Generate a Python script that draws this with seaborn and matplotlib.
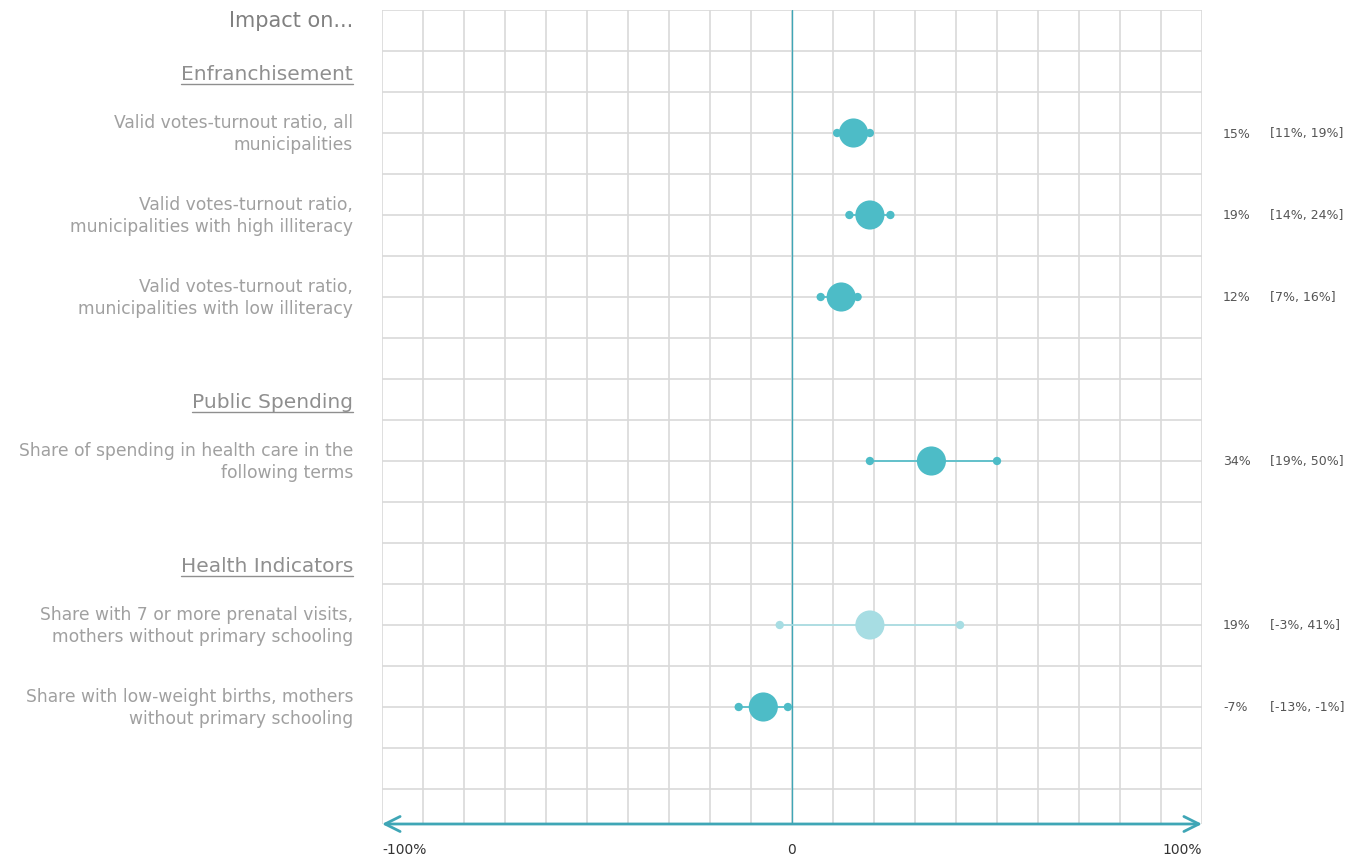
import matplotlib
matplotlib.use("Agg")
import matplotlib.pyplot as plt
import matplotlib.transforms as mtransforms
from matplotlib.lines import Line2D
import seaborn as sns
import pandas as pd
import numpy as np

# ---------------- data ----------------
sections = ["Enfranchisement", "Public Spending", "Health Indicators"]
labels = [
    "Valid votes-turnout ratio, all\nmunicipalities",
    "Valid votes-turnout ratio,\nmunicipalities with high illiteracy",
    "Valid votes-turnout ratio,\nmunicipalities with low illiteracy",
    "Share of spending in health care in the\nfollowing terms",
    "Share with 7 or more prenatal visits,\nmothers without primary schooling",
    "Share with low-weight births, mothers\nwithout primary schooling",
]
item_section = [0, 0, 0, 1, 2, 2]
estimate = [15, 19, 12, 34, 19, -7]
ci_low = [11, 14, 7, 19, -3, -13]
ci_high = [19, 24, 16, 50, 41, -1]
significant = [True, True, True, True, False, True]
x_ticks = [-100, 0, 100]
x_tick_labels = ["-100%", "0", "100%"]
title_text = "Impact on..."

# ---------------- layout ----------------
W, H = 1361, 862
DPI = 100
sns.set_theme(style="white")
plt.rcParams["font.family"] = ["DejaVu Sans"]

TEAL = "#4DBCC7"
LIGHT = "#A7DDE3"
GRID = "#D9D9D9"
AXIS_TEAL = "#3FA6B6"

fig = plt.figure(figsize=(W / DPI, H / DPI), dpi=DPI)
left_px, right_px, top_px, bottom_px = 382, 1202, 11, 825
row_px = 41
ax = fig.add_axes([left_px / W, 1 - bottom_px / H,
                   (right_px - left_px) / W, (bottom_px - top_px) / H])

# compute rows from section structure
header_rows = {}
item_rows = []
cursor = 1
for s_idx in range(len(sections)):
    header_rows[s_idx] = cursor + 0.5
    r = cursor + 2
    for i, sec in enumerate(item_section):
        if sec == s_idx:
            item_rows.append(r)
            r += 2
    cursor = r
n_lines = cursor + 1
y_bottom = (bottom_px - top_px) / row_px

ax.set_xlim(-100, 100)
ax.set_ylim(y_bottom, 0)

# grid
for gx in range(-100, 101, 10):
    ax.axvline(gx, color=GRID, lw=1.2, zorder=0)
for gy in range(0, n_lines):
    ax.axhline(gy, color=GRID, lw=1.2, zorder=0)
ax.axvline(0, color=AXIS_TEAL, lw=1.0, zorder=1)

for sp in ax.spines.values():
    sp.set_visible(False)
ax.set_xticks([])
ax.set_yticks([])

df = pd.DataFrame({
    "row": item_rows,
    "est": estimate,
    "lo": ci_low,
    "hi": ci_high,
    "sig": ["sig" if s else "ns" for s in significant],
})
palette = {"sig": TEAL, "ns": LIGHT}

# CI lines
for _, r in df.iterrows():
    ax.hlines(r["row"], r["lo"], r["hi"], color=palette[r["sig"]], lw=1.2, zorder=2)

ends = pd.concat([df[["row", "lo", "sig"]].rename(columns={"lo": "x"}),
                  df[["row", "hi", "sig"]].rename(columns={"hi": "x"})])
sns.scatterplot(data=ends, x="x", y="row", hue="sig", palette=palette, s=36,
                linewidth=0, legend=False, ax=ax, zorder=3)
sns.scatterplot(data=df, x="est", y="row", hue="sig", palette=palette, s=440,
                linewidth=0, legend=False, ax=ax, zorder=4)
ax.set_xlabel("")
ax.set_ylabel("")

# bottom arrow axis
ax.annotate("", xy=(-100, y_bottom), xytext=(100, y_bottom),
            xycoords="data", textcoords="data",
            arrowprops=dict(arrowstyle="<->,head_length=0.9,head_width=0.45",
                            color=AXIS_TEAL, lw=2.0, shrinkA=0, shrinkB=0),
            annotation_clip=False)

# tick labels
ha_map = {0: "left", 1: "center", 2: "right"}
for i, (tx, tl) in enumerate(zip(x_ticks, x_tick_labels)):
    ax.text(tx, y_bottom + 0.6, tl, ha=ha_map[i], va="center",
            fontsize=10, color="#333333", clip_on=False)

# left labels
trans_left = mtransforms.blended_transform_factory(fig.transFigure, ax.transData)
lx = 353 / W
fig.text(lx, 0.25, title_text, ha="right", va="center", fontsize=15,
         color="#808080", transform=trans_left)
header_texts = []
for s_idx, name in enumerate(sections):
    t = fig.text(lx, header_rows[s_idx] + 0.05, name, ha="right", va="center",
                 fontsize=14.5, color="#8F8F8F", transform=trans_left)
    header_texts.append(t)
for lab, r in zip(labels, item_rows):
    fig.text(lx, r, lab, ha="right", va="center", fontsize=12.3,
             color="#A0A0A0", transform=trans_left, linespacing=1.3)

# right labels
ex = 1223 / W
cx = 1270 / W
for e, lo, hi, r in zip(estimate, ci_low, ci_high, item_rows):
    fig.text(ex, r, f"{e}%", ha="left", va="center", fontsize=9,
             color="#555555", transform=trans_left)
    fig.text(cx, r, f"[{lo}%, {hi}%]", ha="left", va="center", fontsize=9,
             color="#555555", transform=trans_left)

# underline headers
fig.canvas.draw()
renderer = fig.canvas.get_renderer()
for t in header_texts:
    bb = t.get_window_extent(renderer)
    yline = bb.y0 - 1
    fig.add_artist(Line2D([bb.x0 / W, bb.x1 / W], [yline / H, yline / H],
                          transform=fig.transFigure, color="#8F8F8F", lw=1.0))

fig.savefig("out.png", dpi=DPI)
